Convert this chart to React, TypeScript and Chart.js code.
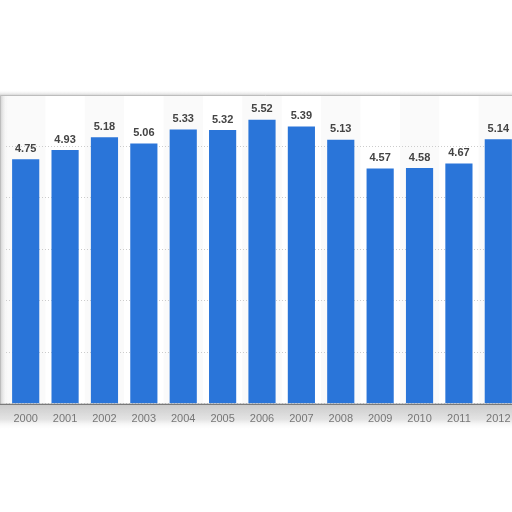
import React, { useEffect, useRef } from "react";
import { Chart, registerables } from "chart.js";

Chart.register(...registerables);

const years = ["2000", "2001", "2002", "2003", "2004", "2005", "2006", "2007", "2008", "2009", "2010", "2011", "2012"];
const values = [4.75, 4.93, 5.18, 5.06, 5.33, 5.32, 5.52, 5.39, 5.13, 4.57, 4.58, 4.67, 5.14];
const yTicks = [0, 1, 2, 3, 4, 5, 6];

const decorPlugin = {
  id: "decor",
  beforeDraw(chart: any) {
    const { ctx, chartArea, scales } = chart;
    const x = scales.x;
    ctx.save();
    const step = x.getPixelForValue(1) - x.getPixelForValue(0);
    years.forEach((_, i) => {
      if (i % 2 === 0) {
        const cx = x.getPixelForValue(i);
        ctx.fillStyle = "#fafafa";
        ctx.fillRect(cx - step / 2, chartArea.top, step, chartArea.bottom - chartArea.top);
      }
    });
    const g = ctx.createLinearGradient(0, chartArea.bottom, 0, chartArea.bottom + 26);
    g.addColorStop(0, "rgba(195,195,195,0.9)");
    g.addColorStop(0.6, "rgba(215,215,215,0.7)");
    g.addColorStop(1, "rgba(255,255,255,0)");
    ctx.fillStyle = g;
    ctx.fillRect(0, chartArea.bottom, chart.width, 26);
    const gt = ctx.createLinearGradient(0, chartArea.top - 5, 0, chartArea.top);
    gt.addColorStop(0, "rgba(255,255,255,0)");
    gt.addColorStop(1, "rgba(200,200,200,0.7)");
    ctx.fillStyle = gt;
    ctx.fillRect(0, chartArea.top - 5, chart.width, 5);
    const gl = ctx.createLinearGradient(0, 0, 8, 0);
    gl.addColorStop(0, "rgba(200,200,200,0.9)");
    gl.addColorStop(1, "rgba(240,240,240,0)");
    ctx.fillStyle = gl;
    ctx.fillRect(0, chartArea.top, 8, chartArea.bottom - chartArea.top);
    ctx.restore();
  },
  afterDatasetsDraw(chart: any) {
    const { ctx, chartArea } = chart;
    const meta = chart.getDatasetMeta(0);
    ctx.save();
    ctx.font = "bold 11px 'Liberation Sans', Arial, sans-serif";
    ctx.fillStyle = "#444444";
    ctx.textAlign = "center";
    ctx.textBaseline = "bottom";
    meta.data.forEach((bar: any, i: number) => {
      ctx.fillText(values[i].toFixed(2), bar.x, bar.y - 5);
    });
    ctx.strokeStyle = "#bdbdbd";
    ctx.lineWidth = 1;
    ctx.beginPath();
    ctx.moveTo(0.5, chartArea.bottom);
    ctx.lineTo(0.5, chartArea.top + 0.5);
    ctx.lineTo(chart.width, chartArea.top + 0.5);
    ctx.stroke();
    ctx.strokeStyle = "#666666";
    ctx.beginPath();
    ctx.moveTo(0, chartArea.bottom + 0.5);
    ctx.lineTo(chart.width, chartArea.bottom + 0.5);
    ctx.stroke();
    ctx.restore();
  },
};

export default function App() {
  const ref = useRef<HTMLCanvasElement>(null);
  useEffect(() => {
    if (!ref.current) return;
    const chart = new Chart(ref.current, {
      type: "bar",
      data: {
        labels: years,
        datasets: [
          {
            data: values,
            backgroundColor: "#2a75d9",
            categoryPercentage: 0.69,
            barPercentage: 1,
          },
        ],
      },
      options: {
        animation: false,
        responsive: false,
        devicePixelRatio: 1,
        layout: { padding: { left: 6, right: 12, top: 95, bottom: 77 } },
        plugins: { legend: { display: false }, tooltip: { enabled: false } },
        scales: {
          x: {
            grid: { display: false, drawTicks: false },
            border: { display: false },
            ticks: {
              color: "#777777",
              padding: 9,
              font: { family: "'Liberation Sans', Arial, sans-serif", size: 11 },
            },
          },
          y: {
            min: 0,
            max: 6,
            afterBuildTicks: (axis: any) => {
              axis.ticks = yTicks.map((v) => ({ value: v }));
            },
            ticks: { display: false },
            border: { display: false, dash: [1, 2] },
            grid: {
              color: "#cccccc",
              lineWidth: 1,
              drawTicks: false,
            },
            afterFit: (axis: any) => {
              axis.width = 0;
            },
          },
        },
      },
      plugins: [decorPlugin],
    });
    return () => chart.destroy();
  }, []);
  return (
    <div style={{ position: "fixed", left: 0, top: 0, width: 512, height: 512, overflow: "hidden", background: "#fff" }}>
      <canvas ref={ref} width={530} height={512} style={{ display: "block" }} />
    </div>
  );
}
